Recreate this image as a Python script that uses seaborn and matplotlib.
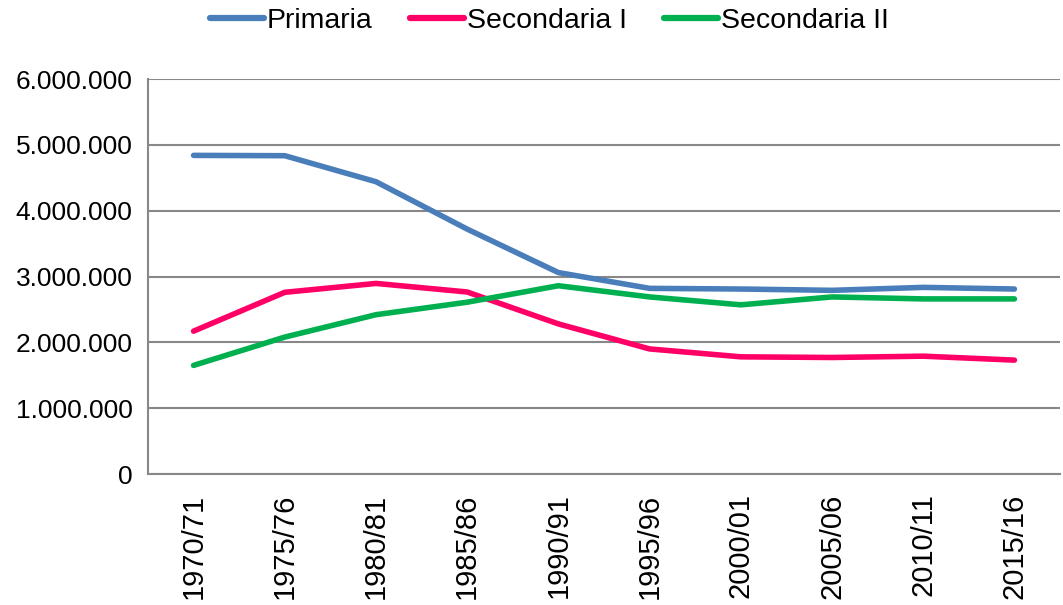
import numpy as np
import pandas as pd
import matplotlib
matplotlib.use("Agg")
import matplotlib.pyplot as plt
from matplotlib.ticker import FuncFormatter
import seaborn as sns

# Data
anni = ["1970/71", "1975/76", "1980/81", "1985/86", "1990/91",
        "1995/96", "2000/01", "2005/06", "2010/11", "2015/16"]
primaria = [4840000, 4835000, 4440000, 3720000, 3060000,
            2820000, 2810000, 2790000, 2835000, 2810000]
secondaria_1 = [2170000, 2760000, 2895000, 2765000, 2280000,
                1900000, 1780000, 1770000, 1790000, 1730000]
secondaria_2 = [1650000, 2080000, 2420000, 2610000, 2860000,
                2690000, 2570000, 2690000, 2660000, 2660000]
serie = ["Primaria", "Secondaria I", "Secondaria II"]
colori = ["#4A7EBB", "#FF0066", "#00B050"]

df = pd.DataFrame({
    "anno": anni * 3,
    "serie": np.repeat(serie, len(anni)),
    "valore": primaria + secondaria_1 + secondaria_2,
})
df["pos"] = df["anno"].map({a: i for i, a in enumerate(anni)})

sns.set_style("white")
plt.rcParams["font.family"] = ["Liberation Sans", "DejaVu Sans"]
plt.rcParams["text.color"] = "black"
plt.rcParams["xtick.labelcolor"] = "black"
plt.rcParams["ytick.labelcolor"] = "black"

fig = plt.figure(figsize=(10.63, 6.05), dpi=100)
ax = fig.add_axes([0.1392, 0.2165, 0.8580, 0.6529])

sns.lineplot(data=df, x="pos", y="valore", hue="serie", hue_order=serie,
             palette=colori, linewidth=4.0, sort=False, ax=ax,
             solid_capstyle="round")

grid_col = "#888888"
ax.set_xlim(-0.5, len(anni) - 0.5)
ax.set_ylim(0, 6000000)
ax.set_yticks(np.arange(0, 6000001, 1000000))
ax.yaxis.set_major_formatter(FuncFormatter(lambda v, p: f"{int(v):,}".replace(",", ".")))
ax.set_xticks(range(len(anni)))
ax.set_xticklabels(anni, rotation=90)
ax.set_xticks(np.arange(-0.5, len(anni), 1), minor=True)
ax.tick_params(axis="x", which="major", length=0, pad=14, labelsize=21)
ax.tick_params(axis="x", which="minor", length=8, width=1.5, color=grid_col, direction="out")
ax.tick_params(axis="y", length=7, width=1.5, color=grid_col, direction="out", labelsize=19, pad=4)
ax.yaxis.grid(True, color=grid_col, linewidth=1.5)
ax.set_axisbelow(True)
ax.set_xlabel("")
ax.set_ylabel("")
for s in ["top", "right"]:
    ax.spines[s].set_visible(False)
for s in ["left", "bottom"]:
    ax.spines[s].set_color(grid_col)
    ax.spines[s].set_linewidth(1.5)

leg = ax.legend(loc="upper center", bbox_to_anchor=(0.44, 1.245), ncol=3, frameon=False,
                fontsize=20.5, handlelength=1.9, handletextpad=0.1, columnspacing=1.3)
for line in leg.get_lines():
    line.set_linewidth(4.5)

fig.savefig("out.png", dpi=100)
